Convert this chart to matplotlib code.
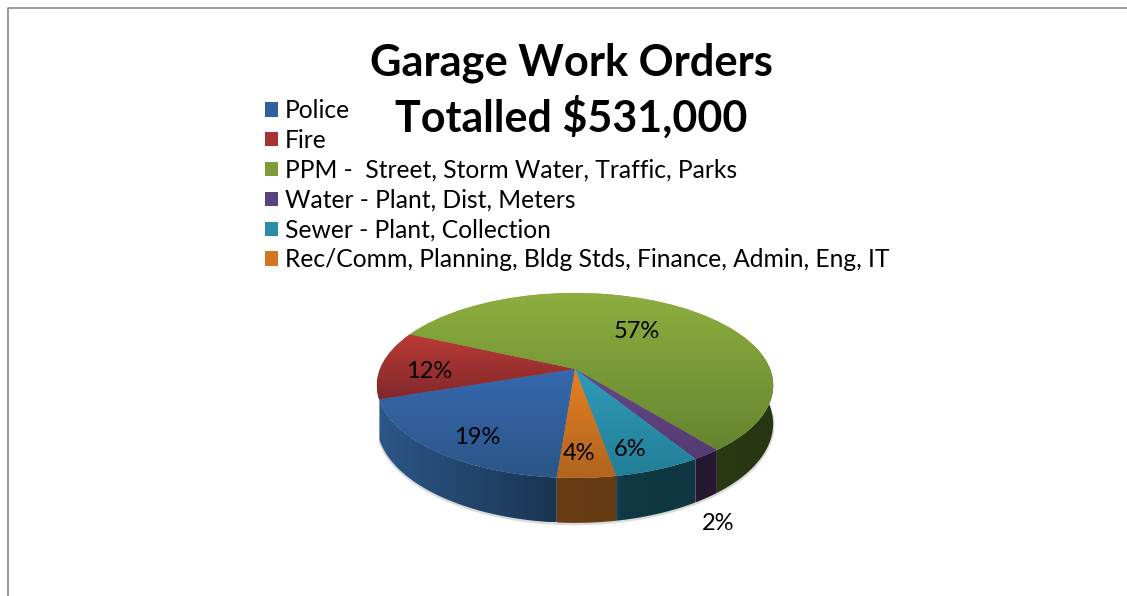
import numpy as np
import matplotlib
matplotlib.use("Agg")
import matplotlib.pyplot as plt
from matplotlib.colors import to_rgb
from matplotlib.patches import Polygon
from matplotlib.transforms import Transform

plt.rcParams['font.family'] = ['Lato', 'DejaVu Sans']

title_lines = ["Garage Work Orders", "Totalled $531,000"]
categories = ["Police", "Fire", "PPM -  Street, Storm Water, Traffic, Parks", "Water - Plant, Dist, Meters",
              "Sewer - Plant, Collection", "Rec/Comm, Planning, Bldg Stds, Finance, Admin, Eng, IT"]
# shares, they round to the printed 19/12/57/2/6/4
values = [18.6, 12, 57.4, 2, 6, 4]

# colours of each slice, top of the slice -> bottom of the slice
top_colors = ["#3568ae", "#ba3a36", "#8cae3f", "#67478a", "#2f9ab8", "#e67f24"]
bottom_colors = ["#2b5687", "#82282b", "#64852f", "#553a72", "#237f98", "#b0651f"]
legend_colors = ["#2f5f9e", "#a73232", "#7d9c38", "#5e4180", "#2a8ca8", "#d4751f"]

label_pos = [(477, 437), (429, 371), (637, 332), (718, 523), (630, 449), (579, 453)]

W, H = 1127, 596
CX, CY = 575, 369
RX, RY = 195, 89.5
PERSP = 0.178
DEPTH = 37


class Tilted(Transform):
    # unit pie -> screen pixels, with the far side a bit smaller
    input_dims = 2
    output_dims = 2

    def transform_non_affine(self, values):
        values = np.asarray(values, dtype=float)
        s = 1 / (1 + PERSP * values[:, 1])
        return np.column_stack([CX + RX * values[:, 0] * s, CY - RY * values[:, 1] * s])


fig = plt.figure(figsize=(W / 100, H / 100), dpi=100)
ax = fig.add_axes([0, 0, 1, 1])

wedges, _, pct_texts = ax.pie(values, colors=legend_colors, startangle=-94.4, counterclock=False,
                              autopct='%.0f%%', labels=None, textprops={'fontsize': 17})
ax.set_aspect('auto')
ax.set_xlim(0, W)
ax.set_ylim(H, 0)
ax.axis('off')

tilted = Tilted()
for wedge, top, bottom in zip(wedges, top_colors, bottom_colors):
    wedge.set_transform(tilted + ax.transData)
    wedge.set_zorder(2)
    wedge.set_linewidth(0)

    t = np.radians(np.linspace(wedge.theta1, wedge.theta2, 120))
    rim = np.column_stack([np.cos(t), np.sin(t)])
    px = tilted.transform(rim)
    scale = 1 / (1 + PERSP * rim[:, 1])

    # gradient on the top face, clipped to the slice
    all_pts = np.vstack([px, [[CX, CY]]])
    grad = np.linspace(to_rgb(top), to_rgb(bottom), 64)[:, None, :]
    im = ax.imshow(grad, extent=(all_pts[:, 0].min(), all_pts[:, 0].max(), all_pts[:, 1].max(), all_pts[:, 1].min()),
                   aspect='auto', origin='upper', interpolation='bilinear', zorder=3)
    im.set_clip_path(wedge)

    # side wall: only the part of the rim that faces the viewer
    front = (rim[:, 1] < 0.3) & ~((rim[:, 0] < 0) & (rim[:, 1] > -0.325))
    if front.sum() < 2:
        continue
    upper = px[front]
    lower = upper + np.column_stack([np.zeros(front.sum()), DEPTH * scale[front]])
    outline = Polygon(np.vstack([upper, lower[::-1]]), closed=True, fc='none', ec='none', transform=ax.transData)
    ax.add_patch(outline)
    xs = np.linspace(upper[:, 0].min(), upper[:, 0].max(), 128)
    shade = np.interp(xs, [380, 560, 615, 620, 780], [1.0, 0.6, 0.58, 0.45, 0.4])
    wall = (np.array(to_rgb(bottom)) * shade[:, None])[None, :, :]
    wall_im = ax.imshow(wall, extent=(xs[0], xs[-1], lower[:, 1].max(), upper[:, 1].min()),
                        aspect='auto', origin='upper', interpolation='bilinear', zorder=1)
    wall_im.set_clip_path(outline)

# faint shadow under the pie
t = np.radians(np.linspace(-160, -5, 200))
rim = np.column_stack([np.cos(t), np.sin(t)])
low = tilted.transform(rim) + np.column_stack([np.zeros(200), DEPTH / (1 + PERSP * rim[:, 1]) + 1])
ax.plot(low[:, 0], low[:, 1], color='#999999', alpha=0.35, lw=2, zorder=0)

ax.set_xlim(0, W)
ax.set_ylim(H, 0)

for txt, pos in zip(pct_texts, label_pos):
    txt.set_position(pos)
    txt.set_ha('center')
    txt.set_va('center')
    txt.set_color('black')
    txt.set_zorder(5)

ax.text(571, 62.5, title_lines[0], ha='center', va='center', fontsize=31.2, fontweight='bold', color='black', zorder=6)
ax.text(571, 117.5, title_lines[1], ha='center', va='center', fontsize=31, fontweight='bold', color='black', zorder=6)

leg = ax.legend(wedges, categories, loc='upper left', bbox_to_anchor=(265 / W, 1 - 99 / H), frameon=False,
                fontsize=17.7, labelspacing=0.28, handlelength=0.53, handleheight=0.53, handletextpad=0.28,
                borderpad=0, borderaxespad=0)
leg.set_zorder(4)

# outer frame of the slide
ax.plot([8, 8, W], [H, 7.5, 7.5], color='#8a8a8a', lw=1.2, zorder=0)

fig.savefig("out.png", dpi=100, facecolor='white')
